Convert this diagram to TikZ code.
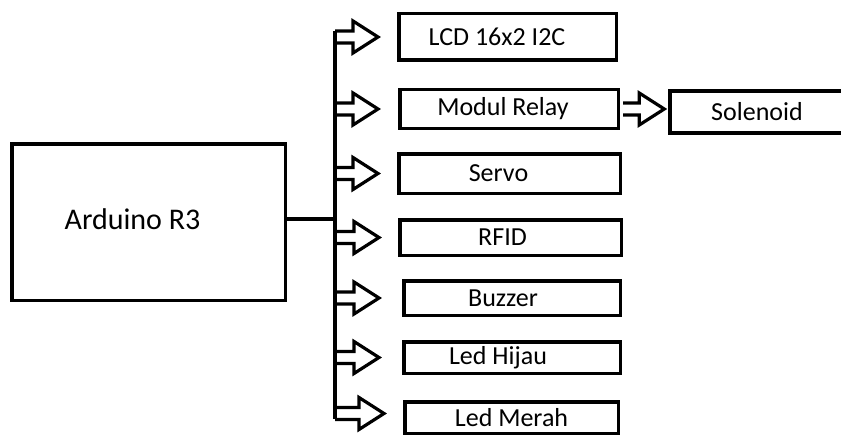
\documentclass[tikz,border=0pt]{standalone}
\usepackage{fontspec}
\setmainfont{Carlito}
\usetikzlibrary{calc}
\newcommand{\lftby}[1]{\hspace*{-#1}}
\begin{document}
\begin{tikzpicture}[x=1pt,y=-1pt,
  box/.style={draw, line width=3.5pt, inner sep=0pt, font=\fontsize{26}{28}\selectfont},
  conn/.style={line width=3.5pt},
  blockarrow/.style={draw, line width=3.2pt, line join=miter, to path={
    let \p1=(\tikztostart), \p2=(\tikztotarget) in
    (\x1,\y1+6pt) -- (\x2-25pt,\y1+6pt) -- (\x2-25pt,\y1+16pt) -- (\x2,\y1)
    -- (\x2-25pt,\y1-16pt) -- (\x2-25pt,\y1-6pt) -- (\x1,\y1-6pt)}}]
\useasboundingbox (0,0) rectangle (841,436);
% boxes
\node[box, minimum width=273.5pt, minimum height=156.5pt, font=\fontsize{30}{32}\selectfont] (ard) at (148.5,222) {\lftby{32pt}\raisebox{6pt}{Arduino R3}};
\node[box, minimum width=217.5pt, minimum height=46.5pt] (lcd) at (507.5,37) {\lftby{21pt}LCD 16x2 I2C};
\node[box, minimum width=218.5pt, minimum height=38.5pt] (relay) at (509,109) {\lftby{12pt}Modul Relay};
\node[box, minimum width=221.5pt, minimum height=39.5pt] (servo) at (509.5,173.5) {\lftby{22pt}Servo};
\node[box, minimum width=221.5pt, minimum height=35.5pt] (rfid) at (510.5,237.5) {\lftby{16pt}RFID};
\node[box, minimum width=216.5pt, minimum height=34.5pt] (buzzer) at (512,298) {\lftby{18pt}Buzzer};
\node[box, minimum width=216.5pt, minimum height=31.5pt] (hijau) at (512,357.5) {\lftby{28pt}Led Hijau};
\node[box, minimum width=213.5pt, minimum height=31.5pt] (merah) at (511.5,417.5) {Led Merah};
\node[box, minimum width=220pt, minimum height=41.5pt] (sol) at (780,112) {\lftby{46pt}Solenoid};
% bus
\coordinate (bt) at (335,31);
\coordinate (bb) at (335,419);
\draw[conn] (bt) -- (bb);
\draw[conn] ([yshift=3pt]ard.east) -- ([yshift=3pt]bt |- ard.east);
% arrows
\draw[blockarrow] (bt |- lcd.west) to ([xshift=-19pt]lcd.west);
\draw[blockarrow] (bt |- relay.west) to ([xshift=-20pt]relay.west);
\draw[blockarrow] (bt |- servo.west) to ([xshift=-19pt]servo.west);
\draw[blockarrow] (bt |- rfid.west) to ([xshift=-19pt]rfid.west);
\draw[blockarrow] (bt |- buzzer.west) to ([xshift=-23pt]buzzer.west);
\draw[blockarrow] (bt |- hijau.west) to ([xshift=-23pt]hijau.west);
\draw[blockarrow] ($(bt |- merah.west)+(0,-4)$) to ([xshift=-19pt,yshift=4pt]merah.west);
\draw[blockarrow] ([xshift=3pt]relay.east) to ([xshift=-4pt]sol.west);
\end{tikzpicture}
\end{document}
